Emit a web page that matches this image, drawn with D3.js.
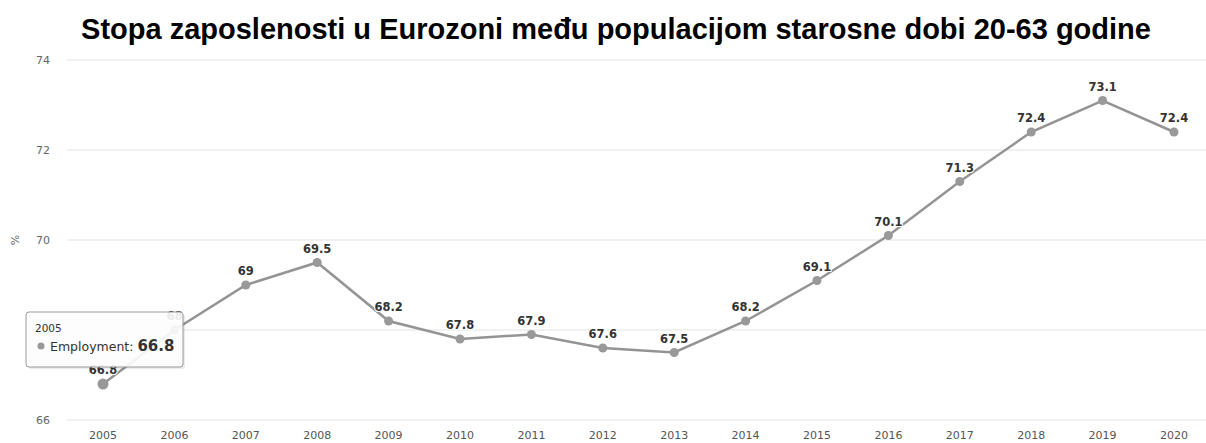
<!DOCTYPE html>
<html>
<head>
<meta charset="utf-8">
<script src="https://cdn.jsdelivr.net/npm/d3@7"></script>
<style>
  body { margin: 0; background: #fff; }
  svg { display: block; }
</style>
</head>
<body>
<svg id="chart"></svg>
<script>
const width = 1206;
const height = 443;

// podaci
const years = ["2005", "2006", "2007", "2008", "2009", "2010", "2011", "2012",
  "2013", "2014", "2015", "2016", "2017", "2018", "2019", "2020"];
const employment = [66.8, 68, 69, 69.5, 68.2, 67.8, 67.9, 67.6, 67.5, 68.2,
  69.1, 70.1, 71.3, 72.4, 73.1, 72.4];
const yTicks = [66, 68, 70, 72, 74];

const svg = d3.select("#chart")
  .attr("width", width)
  .attr("height", height);

const x = d3.scalePoint().domain(years).range([103, 1174]);
const y = d3.scaleLinear().domain([66, 74]).range([420, 60]);

const font = "'DejaVu Sans', Verdana, sans-serif";

// naslov
svg.append("text")
  .attr("x", 616).attr("y", 39)
  .attr("text-anchor", "middle")
  .attr("font-family", "'Liberation Sans', Arial, sans-serif")
  .attr("font-weight", "bold")
  .attr("font-size", 29)
  .attr("fill", "#000")
  .text("Stopa zaposlenosti u Eurozoni među populacijom starosne dobi 20-63 godine");

// mreža
svg.append("g").selectAll("line")
  .data(yTicks)
  .join("line")
  .attr("x1", 67).attr("x2", width)
  .attr("y1", d => y(d)).attr("y2", d => y(d))
  .attr("stroke", "#e3e3e3")
  .attr("stroke-width", 1);

// y oznake
svg.append("g").selectAll("text")
  .data(yTicks)
  .join("text")
  .attr("x", 50).attr("y", d => y(d) + 4)
  .attr("text-anchor", "end")
  .attr("font-family", font)
  .attr("font-size", 11)
  .attr("fill", "#666")
  .text(d => d);

svg.append("text")
  .attr("transform", `translate(15,${y(70)}) rotate(-90)`)
  .attr("text-anchor", "middle")
  .attr("dy", "0.35em")
  .attr("font-family", font)
  .attr("font-size", 11)
  .attr("fill", "#666")
  .text("%");

// x oznake
svg.append("g").selectAll("text")
  .data(years)
  .join("text")
  .attr("x", d => x(d)).attr("y", 439)
  .attr("text-anchor", "middle")
  .attr("font-family", font)
  .attr("font-size", 11)
  .attr("fill", "#555")
  .text(d => d);

const pts = years.map((yr, i) => ({ year: yr, value: employment[i] }));

// linija
svg.append("path")
  .datum(pts)
  .attr("fill", "none")
  .attr("stroke", "#949494")
  .attr("stroke-width", 2.5)
  .attr("d", d3.line().x(d => x(d.year)).y(d => y(d.value)));

// tačke
svg.append("g").selectAll("circle")
  .data(pts)
  .join("circle")
  .attr("cx", d => x(d.year))
  .attr("cy", d => y(d.value))
  .attr("r", (d, i) => i === 0 ? 5.5 : 4.5)
  .attr("fill", "#999");

// oznake vrijednosti
svg.append("g").selectAll("text")
  .data(pts)
  .join("text")
  .attr("x", d => x(d.year))
  .attr("y", d => y(d.value) - 10)
  .attr("text-anchor", "middle")
  .attr("font-family", font)
  .attr("font-size", 11.5)
  .attr("font-weight", "bold")
  .attr("fill", "#333")
  .attr("stroke", "#fff")
  .attr("stroke-width", 2)
  .attr("paint-order", "stroke")
  .text(d => d.value);

// tooltip za 2005
const tip = svg.append("g").attr("transform", "translate(26,312)");
tip.append("rect")
  .attr("x", 2).attr("y", 2)
  .attr("width", 157).attr("height", 55)
  .attr("rx", 3)
  .attr("fill", "#000").attr("opacity", 0.08);
tip.append("rect")
  .attr("width", 157).attr("height", 55)
  .attr("rx", 3)
  .attr("fill", "#fff").attr("fill-opacity", 0.9)
  .attr("stroke", "#999").attr("stroke-width", 1);
tip.append("text")
  .attr("x", 9).attr("y", 20)
  .attr("font-family", font).attr("font-size", 10.5)
  .attr("fill", "#333")
  .text(pts[0].year);
tip.append("circle")
  .attr("cx", 15).attr("cy", 34).attr("r", 3.5)
  .attr("fill", "#999");
const t2 = tip.append("text")
  .attr("x", 24).attr("y", 39)
  .attr("font-family", font).attr("font-size", 12.5)
  .attr("fill", "#333");
t2.append("tspan").text("Employment: ");
t2.append("tspan").attr("font-size", 15).attr("font-weight", "bold").text(pts[0].value);
</script>
</body>
</html>
